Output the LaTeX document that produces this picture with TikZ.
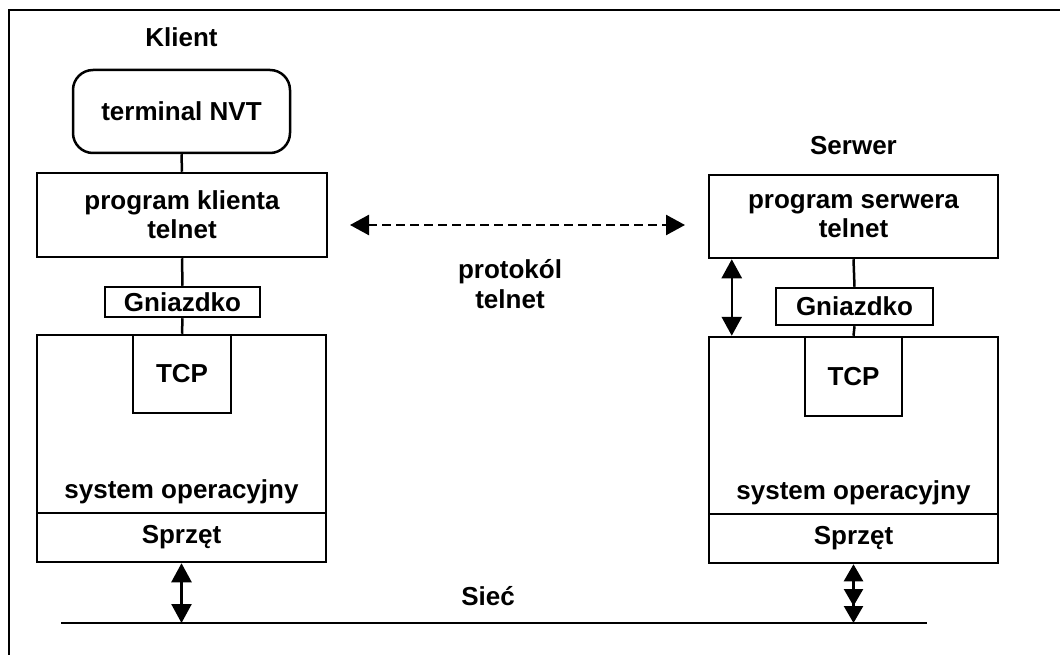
\documentclass[tikz,border=0pt]{standalone}
\usepackage{fontspec}
\setmainfont{Liberation Sans}
\usetikzlibrary{arrows.meta}
\begin{document}
\begin{tikzpicture}[x=1pt,y=-1pt,
  every node/.style={font=\fontsize{26}{29}\selectfont\bfseries, inner sep=0pt, align=center},
  box/.style={draw, line width=2.5pt},
  lbl/.style={anchor=base},
  conn/.style={line width=2.5pt},
  bothway/.style={conn, {Triangle[length=19pt,width=20pt]}-{Triangle[length=19pt,width=20pt]}},
  dblway/.style={conn, {Triangle[length=17pt,width=19pt]}-{Triangle[length=17pt,width=19pt] Triangle[length=17pt,width=19pt]}},
  dashway/.style={bothway, dash pattern=on 9pt off 5pt},
  frame/.style={line width=2.5pt}
]
\useasboundingbox (0,0) rectangle (1060,655);
% frame (top and left edges)
\draw[frame] (9,655) -- (9,10) -- (1060,10);

% ---------- Client ----------
\node[lbl] (klient) at (181.5,47) {Klient};
\node[box, minimum width=217pt, minimum height=83pt, rounded corners=20pt] (term) at (181.5,111.5) {terminal NVT};
\node[box, minimum width=290pt, minimum height=84pt] (progk) at (182,215) {program klienta\\telnet};
\node[box, minimum width=155pt, minimum height=30pt] (gnk) at (182.5,302) {Gniazdko};
\node[box, minimum width=289pt, minimum height=178pt] (osk) at (181.5,424) {};
\node[box, minimum width=98pt, minimum height=78pt] (tcpk) at (182,374) {TCP};
\node[lbl] (sysk) at (181.5,498) {system operacyjny};
\node[box, minimum width=289pt, minimum height=49pt] (hwk) at (181.5,537.5) {Sprzęt};

\draw[conn] (term.south) -- (progk.north);
\draw[conn] (progk.south) -- (gnk.north);
\draw[conn] (gnk.south) -- (tcpk.north);

% ---------- Server ----------
\node[lbl] (serwer) at (853.5,155) {Serwer};
\node[box, minimum width=289pt, minimum height=83pt] (progs) at (853.5,216.5) {program serwera\\telnet};
\node[box, minimum width=157pt, minimum height=37pt] (gns) at (854.5,306.5) {Gniazdko};
\node[box, minimum width=289pt, minimum height=177pt] (oss) at (853.5,425.5) {};
\node[box, minimum width=97pt, minimum height=79pt] (tcps) at (853.5,376.5) {TCP};
\node[lbl] (syss) at (853.5,499) {system operacyjny};
\node[box, minimum width=289pt, minimum height=49pt] (hws) at (853.5,538.5) {Sprzęt};

\draw[conn] (progs.south) -- (gns.north);
\draw[conn] (gns.south) -- (tcps.north);
\draw[bothway] ([xshift=24pt]progs.south west) -- ([xshift=24pt]oss.north west);

% ---------- Protocol ----------
\coordinate (da) at (350,225);
\coordinate (db) at (685,225);
\draw[dashway] (da) -- (db);
\node[lbl] (proto) at (510,278) {protokól};
\node[lbl] (proto2) at (510,308) {telnet};

% ---------- Network ----------
\coordinate (nl) at (61,623);
\coordinate (nr) at (927,623);
\draw[conn] (nl) -- (nr);
\node[lbl] (siec) at (488,605) {Sieć};
\draw[bothway] (hwk.south) -- (hwk.south |- nl);
\draw[dblway] (hws.south) -- (hws.south |- nr);
\end{tikzpicture}
\end{document}
